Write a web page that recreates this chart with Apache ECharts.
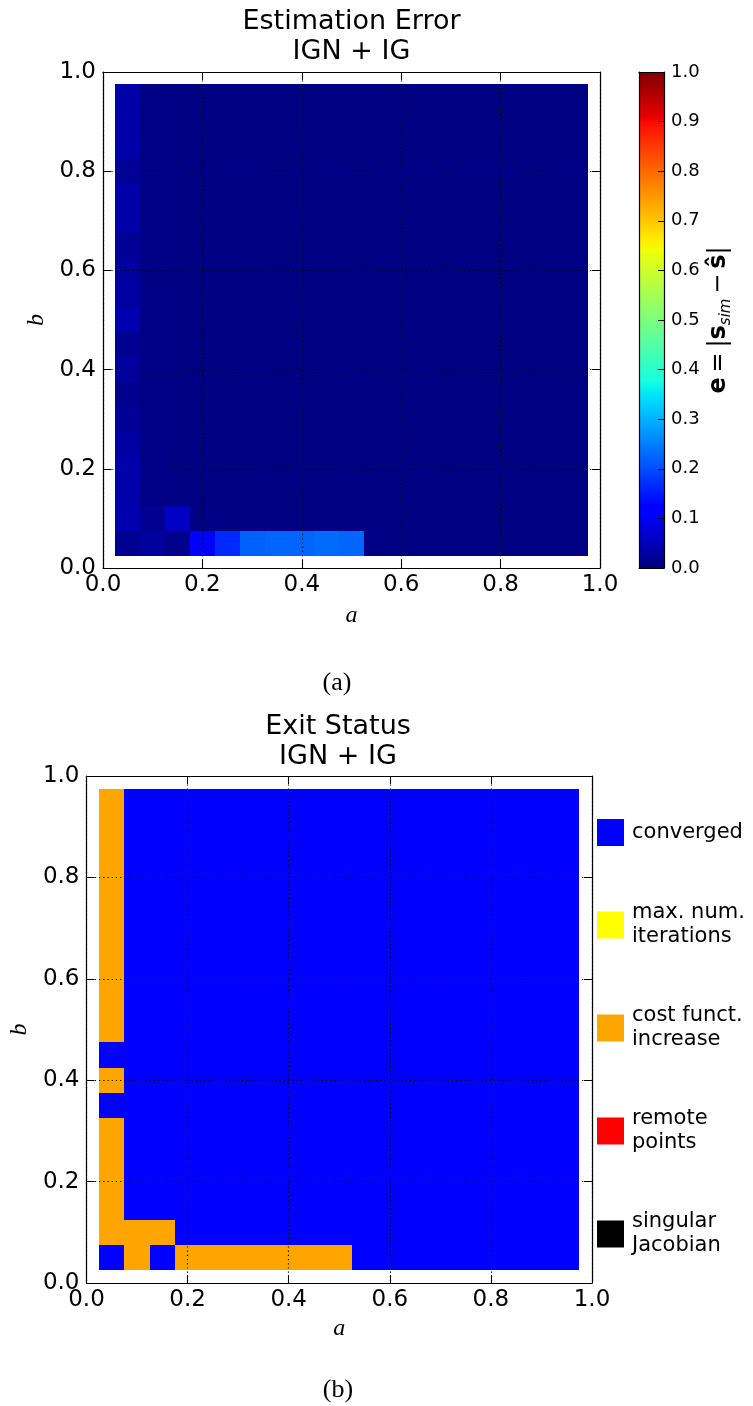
<!DOCTYPE html>
<html>
<head>
<meta charset="utf-8">
<script src="https://cdn.jsdelivr.net/npm/echarts@6/dist/echarts.min.js"></script>
<style>
html,body{margin:0;padding:0;background:#fff;}
#chart{width:753px;height:1406px;}
</style>
</head>
<body>
<div id="chart"></div>
<script>
// ---------------- data ----------------
const A_VALUES = [0.05,0.10,0.15,0.20,0.25,0.30,0.35,0.40,0.45,0.50,0.55,0.60,0.65,0.70,0.75,0.80,0.85,0.90,0.95];
const B_VALUES = [0.05,0.10,0.15,0.20,0.25,0.30,0.35,0.40,0.45,0.50,0.55,0.60,0.65,0.70,0.75,0.80,0.85,0.90,0.95];

// estimation error, rows = b (ascending), columns = a (ascending)
const ERROR_ROWS = [
  [0.015,0.025,0.012,0.115,0.165,0.220,0.225,0.225,0.230,0.225,0.004,0.003,0.003,0.003,0.003,0.003,0.003,0.003,0.003], // b=0.05
  [0.040,0.015,0.060,0.004,0.003,0.003,0.003,0.003,0.003,0.003,0.003,0.003,0.003,0.003,0.003,0.003,0.003,0.003,0.003], // b=0.10
  [0.037,0.006,0.003,0.003,0.003,0.003,0.003,0.003,0.003,0.003,0.003,0.003,0.003,0.003,0.003,0.003,0.003,0.003,0.003], // b=0.15
  [0.035,0.006,0.003,0.003,0.003,0.003,0.003,0.003,0.003,0.003,0.003,0.003,0.003,0.003,0.003,0.003,0.003,0.003,0.003], // b=0.20
  [0.030,0.005,0.003,0.003,0.003,0.003,0.003,0.003,0.003,0.003,0.003,0.003,0.003,0.003,0.003,0.003,0.003,0.003,0.003], // b=0.25
  [0.020,0.005,0.003,0.003,0.003,0.003,0.003,0.003,0.003,0.003,0.003,0.003,0.003,0.003,0.003,0.003,0.003,0.003,0.003], // b=0.30
  [0.012,0.005,0.003,0.003,0.003,0.003,0.003,0.003,0.003,0.003,0.003,0.003,0.003,0.003,0.003,0.003,0.003,0.003,0.003], // b=0.35
  [0.025,0.005,0.003,0.003,0.003,0.003,0.003,0.003,0.003,0.003,0.003,0.003,0.003,0.003,0.003,0.003,0.003,0.003,0.003], // b=0.40
  [0.015,0.005,0.003,0.003,0.003,0.003,0.003,0.003,0.003,0.003,0.003,0.003,0.003,0.003,0.003,0.003,0.003,0.003,0.003], // b=0.45
  [0.040,0.005,0.003,0.003,0.003,0.003,0.003,0.003,0.003,0.003,0.003,0.003,0.003,0.003,0.003,0.003,0.003,0.003,0.003], // b=0.50
  [0.030,0.005,0.003,0.003,0.003,0.003,0.003,0.003,0.003,0.003,0.003,0.003,0.003,0.003,0.003,0.003,0.003,0.003,0.003], // b=0.55
  [0.025,0.005,0.003,0.003,0.003,0.003,0.003,0.003,0.003,0.003,0.003,0.003,0.003,0.003,0.003,0.003,0.003,0.003,0.003], // b=0.60
  [0.020,0.005,0.003,0.003,0.003,0.003,0.003,0.003,0.003,0.003,0.003,0.003,0.003,0.003,0.003,0.003,0.003,0.003,0.003], // b=0.65
  [0.035,0.005,0.003,0.003,0.003,0.003,0.003,0.003,0.003,0.003,0.003,0.003,0.003,0.003,0.003,0.003,0.003,0.003,0.003], // b=0.70
  [0.035,0.005,0.003,0.003,0.003,0.003,0.003,0.003,0.003,0.003,0.003,0.003,0.003,0.003,0.003,0.003,0.003,0.003,0.003], // b=0.75
  [0.020,0.005,0.003,0.003,0.003,0.003,0.003,0.003,0.003,0.003,0.003,0.003,0.003,0.003,0.003,0.003,0.003,0.003,0.003], // b=0.80
  [0.035,0.005,0.003,0.003,0.003,0.003,0.003,0.003,0.003,0.003,0.003,0.003,0.003,0.003,0.003,0.003,0.003,0.003,0.003], // b=0.85
  [0.033,0.005,0.003,0.003,0.003,0.003,0.003,0.003,0.003,0.003,0.003,0.003,0.003,0.003,0.003,0.003,0.003,0.003,0.003], // b=0.90
  [0.035,0.005,0.003,0.003,0.003,0.003,0.003,0.003,0.003,0.003,0.003,0.003,0.003,0.003,0.003,0.003,0.003,0.003,0.003]  // b=0.95
];

// exit status codes: 0 converged, 1 max iterations, 2 cost increase, 3 remote points, 4 singular Jacobian
const STATUS_ROWS = [
  [0,2,0,2,2,2,2,2,2,2,0,0,0,0,0,0,0,0,0], // b=0.05
  [2,2,2,0,0,0,0,0,0,0,0,0,0,0,0,0,0,0,0], // b=0.10
  [2,0,0,0,0,0,0,0,0,0,0,0,0,0,0,0,0,0,0], // b=0.15
  [2,0,0,0,0,0,0,0,0,0,0,0,0,0,0,0,0,0,0], // b=0.20
  [2,0,0,0,0,0,0,0,0,0,0,0,0,0,0,0,0,0,0], // b=0.25
  [2,0,0,0,0,0,0,0,0,0,0,0,0,0,0,0,0,0,0], // b=0.30
  [0,0,0,0,0,0,0,0,0,0,0,0,0,0,0,0,0,0,0], // b=0.35
  [2,0,0,0,0,0,0,0,0,0,0,0,0,0,0,0,0,0,0], // b=0.40
  [0,0,0,0,0,0,0,0,0,0,0,0,0,0,0,0,0,0,0], // b=0.45
  [2,0,0,0,0,0,0,0,0,0,0,0,0,0,0,0,0,0,0], // b=0.50
  [2,0,0,0,0,0,0,0,0,0,0,0,0,0,0,0,0,0,0], // b=0.55
  [2,0,0,0,0,0,0,0,0,0,0,0,0,0,0,0,0,0,0], // b=0.60
  [2,0,0,0,0,0,0,0,0,0,0,0,0,0,0,0,0,0,0], // b=0.65
  [2,0,0,0,0,0,0,0,0,0,0,0,0,0,0,0,0,0,0], // b=0.70
  [2,0,0,0,0,0,0,0,0,0,0,0,0,0,0,0,0,0,0], // b=0.75
  [2,0,0,0,0,0,0,0,0,0,0,0,0,0,0,0,0,0,0], // b=0.80
  [2,0,0,0,0,0,0,0,0,0,0,0,0,0,0,0,0,0,0], // b=0.85
  [2,0,0,0,0,0,0,0,0,0,0,0,0,0,0,0,0,0,0], // b=0.90
  [2,0,0,0,0,0,0,0,0,0,0,0,0,0,0,0,0,0,0]  // b=0.95
];

const STATUS_NAMES = ['converged', 'max. num.\niterations', 'cost funct.\nincrease', 'remote\npoints', 'singular\nJacobian'];
const STATUS_COLORS = ['#0000ff', '#ffff00', '#ffa500', '#ff0000', '#000000'];

const AXIS_MIN = 0, AXIS_MAX = 1, AXIS_STEP = 0.2;
const CBAR_MIN = 0, CBAR_MAX = 1, CBAR_STEP = 0.1;

// ---------------- helpers ----------------
function jet(v) {
  const seg = (pts) => {
    for (let i = 1; i < pts.length; i++) {
      if (v <= pts[i][0]) {
        const t = (v - pts[i-1][0]) / (pts[i][0] - pts[i-1][0]);
        return pts[i-1][1] + t * (pts[i][1] - pts[i-1][1]);
      }
    }
    return pts[pts.length-1][1];
  };
  const r = seg([[0,0],[0.35,0],[0.66,1],[0.89,1],[1,0.5]]);
  const g = seg([[0,0],[0.125,0],[0.375,1],[0.64,1],[0.91,0],[1,0]]);
  const b = seg([[0,0.5],[0.11,1],[0.34,1],[0.65,0],[1,0]]);
  return 'rgb(' + Math.round(r*255) + ',' + Math.round(g*255) + ',' + Math.round(b*255) + ')';
}
const JET_STOPS = [];
for (let i = 0; i <= 200; i++) JET_STOPS.push(jet(i / 200));

const dA = A_VALUES[1] - A_VALUES[0];
const dB = B_VALUES[1] - B_VALUES[0];

function cellRenderer(w, h) {
  return function (params, api) {
    const x = api.value(0), y = api.value(1);
    const p0 = api.coord([x - w / 2, y + h / 2]);
    const p1 = api.coord([x + w / 2, y - h / 2]);
    const x0 = Math.round(p0[0]), y0 = Math.round(p0[1]);
    const x1 = Math.round(p1[0]), y1 = Math.round(p1[1]);
    return {
      type: 'rect',
      shape: { x: x0, y: y0, width: x1 - x0, height: y1 - y0 },
      style: { fill: api.visual('color'), stroke: null, lineWidth: 0 }
    };
  };
}

const errorData = [];
ERROR_ROWS.forEach((row, j) => row.forEach((v, i) => errorData.push([A_VALUES[i], B_VALUES[j], v])));

const statusData = STATUS_NAMES.map(() => []);
STATUS_ROWS.forEach((row, j) => row.forEach((s, i) => statusData[s].push([A_VALUES[i], B_VALUES[j], s])));

// colorbar samples
const CBAR_N = 248;
const cbarData = [];
for (let i = 0; i < CBAR_N; i++) {
  const v = CBAR_MIN + (i + 0.5) * (CBAR_MAX - CBAR_MIN) / CBAR_N;
  cbarData.push([0.5, v, v]);
}

// ---------------- styles ----------------
const FONT = 'DejaVu Sans';
const tickLabel = { fontFamily: FONT, fontSize: 23, color: '#000' };
const dotted = { show: true, lineStyle: { color: '#000', width: 1.2, type: [1.2, 3] } };

function mainAxes(gridIndex, xName, yName, xGap, yGap) {
  const base = { type: 'value', min: AXIS_MIN, max: AXIS_MAX, interval: AXIS_STEP, gridIndex: gridIndex, z: 5 };
  const line = { show: true, onZero: false, lineStyle: { color: '#000', width: 1.2 } };
  const tick = { show: true, inside: true, length: 8, lineStyle: { color: '#000', width: 1 } };
  const fmt = (v) => v.toFixed(1);
  const nameStyle = { fontFamily: 'Liberation Serif', fontStyle: 'italic', fontSize: 24, color: '#000' };
  return {
    x: [
      Object.assign({}, base, { position: 'bottom', axisLine: line, axisTick: tick,
        axisLabel: Object.assign({ margin: 6, formatter: fmt }, tickLabel), splitLine: { show: false },
        name: xName, nameLocation: 'middle', nameGap: xGap, nameTextStyle: nameStyle }),
      Object.assign({}, base, { position: 'top', axisLine: line, axisTick: tick,
        axisLabel: { show: false }, splitLine: dotted })
    ],
    y: [
      Object.assign({}, base, { position: 'left', axisLine: line, axisTick: tick,
        axisLabel: Object.assign({ margin: 7, formatter: fmt }, tickLabel), splitLine: { show: false },
        name: yName, nameLocation: 'middle', nameGap: yGap, nameRotate: 90, nameTextStyle: nameStyle }),
      Object.assign({}, base, { position: 'right', axisLine: line, axisTick: tick,
        axisLabel: { show: false }, splitLine: dotted })
    ]
  };
}

const ax0 = mainAxes(0, 'a', 'b', 36, 50);
const ax1 = mainAxes(1, 'a', 'b', 34, 52);

const cbarLine = { show: true, onZero: false, lineStyle: { color: '#000', width: 1.2 } };

const xAxes = [ax0.x[0], ax0.x[1], ax1.x[0], ax1.x[1],
  { type: 'value', gridIndex: 2, min: 0, max: 1, position: 'bottom', z: 5, axisLine: cbarLine, axisTick: { show: false }, axisLabel: { show: false }, splitLine: { show: false } },
  { type: 'value', gridIndex: 2, min: 0, max: 1, position: 'top', z: 5, axisLine: cbarLine, axisTick: { show: false }, axisLabel: { show: false }, splitLine: { show: false } }
];
const yAxes = [ax0.y[0], ax0.y[1], ax1.y[0], ax1.y[1],
  { type: 'value', gridIndex: 2, min: CBAR_MIN, max: CBAR_MAX, interval: CBAR_STEP, position: 'right', z: 5,
    axisLine: cbarLine,
    axisTick: { show: true, inside: true, length: 6, lineStyle: { color: '#000', width: 1 } },
    axisLabel: { margin: 7, fontFamily: FONT, fontSize: 18, color: '#000', formatter: (v) => v.toFixed(1) },
    splitLine: { show: false },
    name: '{b|e}{n|\u2009=\u2009|}{b|s}{sub|sim}{n|\u2009\u2212\u2009}{b|\u015D}{n||}',
    nameLocation: 'middle', nameGap: 40, nameRotate: 90,
    nameTextStyle: {
      rich: {
        b: { fontFamily: FONT, fontWeight: 'bold', fontSize: 24, color: '#000', lineHeight: 30 },
        n: { fontFamily: FONT, fontSize: 24, color: '#000', lineHeight: 30 },
        sub: { fontFamily: FONT, fontStyle: 'italic', fontSize: 15, color: '#000', lineHeight: 16, padding: [14, 0, 0, 0] }
      }
    }
  },
  { type: 'value', gridIndex: 2, min: CBAR_MIN, max: CBAR_MAX, position: 'left', z: 5, axisLine: cbarLine, axisTick: { show: false }, axisLabel: { show: false }, splitLine: { show: false } }
];

const titleStyle = { fontFamily: FONT, fontSize: 27, fontWeight: 'normal', color: '#000', lineHeight: 30 };
const capStyle = { fontFamily: 'Liberation Serif', fontSize: 26, fontWeight: 'normal', color: '#000' };

const series = [
  { type: 'custom', name: 'error', xAxisIndex: 0, yAxisIndex: 0, renderItem: cellRenderer(dA, dB),
    data: errorData, encode: { x: 0, y: 1 }, z: 2 },
  { type: 'custom', name: 'colorbar', xAxisIndex: 4, yAxisIndex: 4,
    renderItem: cellRenderer(1, (CBAR_MAX - CBAR_MIN) / CBAR_N), data: cbarData, encode: { x: 0, y: 1 }, z: 2 }
];
STATUS_NAMES.forEach((name, k) => {
  series.push({ type: 'custom', name: name, xAxisIndex: 2, yAxisIndex: 2, renderItem: cellRenderer(dA, dB),
    data: statusData[k], encode: { x: 0, y: 1 }, itemStyle: { color: STATUS_COLORS[k] }, z: 2 });
});

const option = {
  animation: false,
  backgroundColor: '#fff',
  title: [
    { text: 'Estimation Error\nIGN + IG', left: 351.5, top: 7, padding: 0, textAlign: 'center', textVerticalAlign: 'top', textStyle: titleStyle },
    { text: 'Exit Status\nIGN + IG', left: 338, top: 712, padding: 0, textAlign: 'center', textVerticalAlign: 'top', textStyle: titleStyle },
    { text: '(a)', left: 337, top: 670, padding: 0, textAlign: 'center', textVerticalAlign: 'top', textStyle: capStyle },
    { text: '(b)', left: 338, top: 1377, padding: 0, textAlign: 'center', textVerticalAlign: 'top', textStyle: capStyle }
  ],
  grid: [
    { left: 103, top: 72, width: 497, height: 496, containLabel: false },
    { left: 84, top: 776, width: 508, height: 507, containLabel: false },
    { left: 639, top: 72, width: 25, height: 496, containLabel: false }
  ],
  xAxis: xAxes,
  yAxis: yAxes,
  visualMap: [{
    type: 'continuous', show: false, min: CBAR_MIN, max: CBAR_MAX, dimension: 2, seriesIndex: [0, 1],
    inRange: { color: JET_STOPS }
  }],
  legend: {
    data: STATUS_NAMES, orient: 'vertical', left: 597, top: 819, padding: 0, itemGap: 55,
    itemWidth: 27, itemHeight: 27, icon: 'rect', selectedMode: false,
    textStyle: { fontFamily: FONT, fontSize: 21, color: '#000', lineHeight: 24, padding: [0, 0, 0, 3] }
  },
  series: series
};

const chart = echarts.init(document.getElementById('chart'), null, { renderer: 'canvas' });
chart.setOption(option);
</script>
</body>
</html>
